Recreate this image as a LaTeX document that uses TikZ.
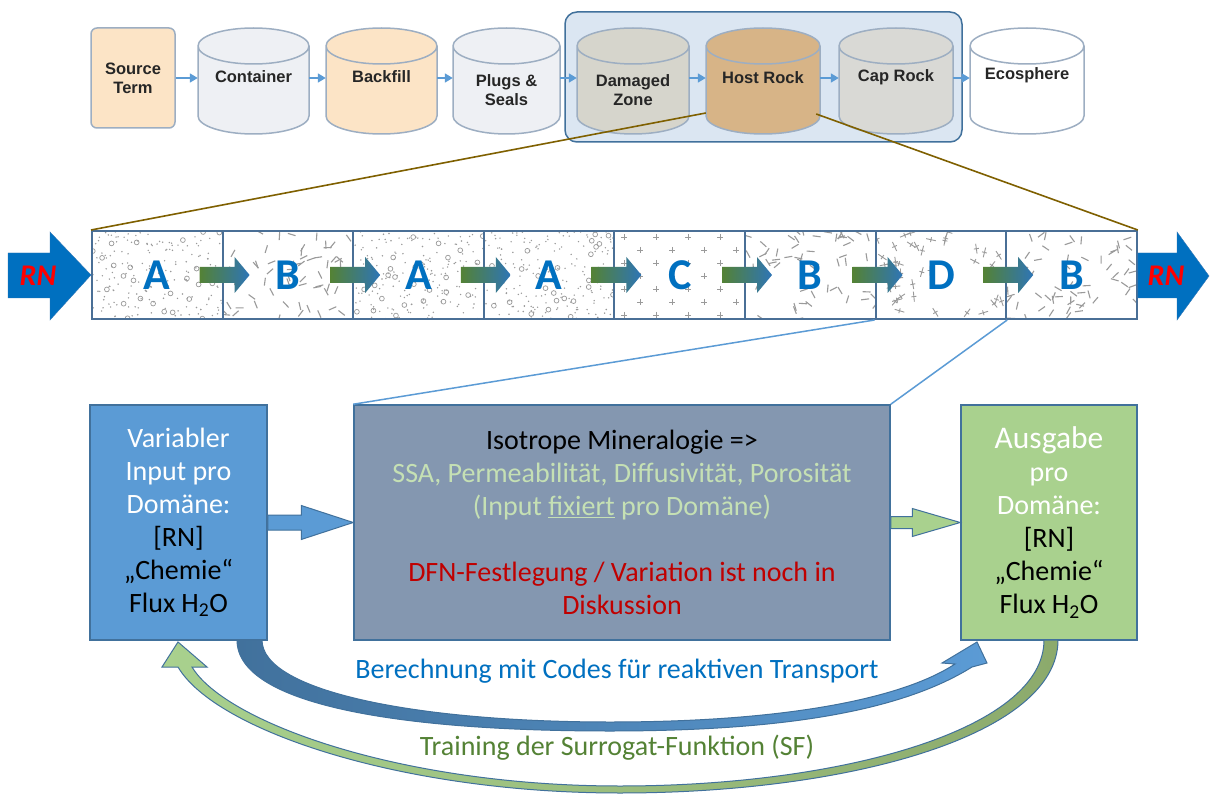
\documentclass[tikz,border=0pt]{standalone}
\usepackage{fontspec}
\setmainfont{Carlito}
\newfontfamily\arialfont{Liberation Sans}
\usetikzlibrary{arrows.meta,calc}

\definecolor{boxline}{HTML}{41719C}
\definecolor{inblue}{HTML}{5B9BD5}
\definecolor{midgray}{HTML}{8497B0}
\definecolor{outgreen}{HTML}{A9D18E}
\definecolor{darkgreen}{HTML}{548235}
\definecolor{letterblue}{HTML}{0070C0}
\definecolor{lightgreen}{HTML}{C5E0B4}
\definecolor{darkred}{HTML}{C00000}
\definecolor{peach}{HTML}{FCE4C6}
\definecolor{paleg}{HTML}{EEF0F4}
\definecolor{stone}{HTML}{D6D5CC}
\definecolor{hostrock}{HTML}{D7B487}
\definecolor{caprock}{HTML}{D9D9D5}
\definecolor{cylline}{HTML}{9DAEC2}
\definecolor{groupblue}{HTML}{DBE6F2}
\definecolor{brownline}{HTML}{7F6000}
\definecolor{texgray}{HTML}{9A9A9A}
\definecolor{olive}{HTML}{8CAA6C}
\definecolor{stripline}{HTML}{4A6F96}
\definecolor{rnblue}{HTML}{0070C0}
\definecolor{arrowblue}{HTML}{2E75B6}

\newcommand\drum[6]{\draw[cylline,line width=1.5,fill=#3] (#1,46) -- (#1,116)
 arc[start angle=180,end angle=0,x radius={(#2-#1)/2},y radius=18] -- (#2,46)
 arc[start angle=0,end angle=-180,x radius={(#2-#1)/2},y radius=18] -- cycle
 (#1,46) arc[start angle=180,end angle=0,x radius={(#2-#1)/2},y radius=18];
\node[drumtext,minimum width=#2-#1] (#4) at ({(#1+#2)/2},#6) {#5};}

\newcommand\texA{%
\foreach \k in {1,...,170} \fill[texgray] (rnd*131,rnd*88) circle[radius=0.8];
\foreach \k in {1,...,26} \draw[texgray,line width=0.7] (rnd*131,rnd*88) circle[radius=2.4];}
\newcommand\texB{%
\foreach \k in {1,...,60} {\pgfmathsetmacro\ang{rnd*180}
 \draw[texgray,line width=1.1] (rnd*131,rnd*88) ++(\ang:4) -- ++(\ang+180:8);}}
\newcommand\texC{%
\foreach \j in {0,...,6} \foreach \i in {0,...,4}
 \draw[texgray,line width=0.8] ({10+mod(\j,2)*16+\i*32},{6+\j*13}) +(-3,0) -- +(3,0) +(0,-3) -- +(0,3);}
\newcommand\texD{%
\foreach \k in {1,...,42} {\pgfmathsetmacro\ang{rnd*180}
 \draw[texgray,line width=0.9] (rnd*131,rnd*88) coordinate (p) ++(\ang:5) -- ++(\ang+180:10)
 (p) ++(\ang+90:2.5) -- ++(\ang-90:5);}}

\begin{document}
\begin{tikzpicture}[x=1pt,y=-1pt,
 drumtext/.style={font=\arialfont\bfseries\fontsize{16.5}{19}\selectfont,text=black!85,align=center,inner sep=0pt},
 flowarrow/.style={inblue,line width=1.6,-{Triangle[width=9pt,length=8pt]}},
 cell/.style={draw=stripline,line width=2,minimum width=130.6,minimum height=88,inner sep=0pt,
  font=\bfseries\fontsize{44}{44}\selectfont,text=letterblue},
 rnlabel/.style={font=\bfseries\itshape\fontsize{30}{30}\selectfont,text=red},
 bigbox/.style={draw=boxline,line width=1.5,minimum height=235,inner sep=0pt,align=center,
  font=\fontsize{28}{33}\selectfont},
 bottomnote/.style={font=\fontsize{28}{30}\selectfont}]
\useasboundingbox (0,0) rectangle (1210,794);
\fill[white] (0,0) rectangle (1210,794);
\pgfmathsetseed{7}

\node[draw=cylline,line width=1.5,fill=peach,rounded corners=6,minimum width=84,minimum height=100,drumtext]
 (src) at (133,78) {Source\\Term};
\drum{198}{309}{paleg}{cont}{Container}{77}
\drum{326}{437}{peach}{back}{Backfill}{77}
\drum{453}{560}{paleg}{plug}{Plugs \&\\Seals}{90}
\node[draw=boxline,fill=groupblue,rounded corners=12,line width=1.5,minimum width=397,minimum height=130]
 (rocks) at (763.5,77) {};
\drum{577}{689}{stone}{dmg}{Damaged\\Zone}{90}
\drum{706}{820}{hostrock}{host}{Host Rock}{78}
\drum{839}{953}{caprock}{cap}{Cap Rock}{77}
\drum{970}{1084}{white}{eco}{Ecosphere}{75}
\coordinate (row) at (0,78);
\foreach \a/\b in {src/cont,cont/back,back/plug,plug/dmg,dmg/host,host/cap,cap/eco}
 \draw[flowarrow] (\a.east|-row) -- (\b.west|-row);

\foreach \ltr [count=\i] in {A,B,A,A,C,B,D,B}
{\begin{scope}
 \clip ({92+130.6*(\i-1)},231) rectangle ++(130.6,88);
 \begin{scope}[shift={({92+130.6*(\i-1)},231)}]\csname tex\ltr\endcsname\end{scope}
\end{scope}
\node[cell] (c\i) at ({92+130.6*(\i-0.5)},275) {\ltr};}
\foreach \i in {1,...,7}
{\begin{scope}[shift={(c\i.east)}]
 \shade[left color=darkgreen,right color=arrowblue] (-24,-8) -- (11,-8) -- (11,-18) -- (26,0)
  -- (11,18) -- (11,8) -- (-24,8) -- cycle;
\end{scope}}
\coordinate (rntop) at (0,253);
\coordinate (rnbot) at (0,298);
\filldraw[fill=rnblue,draw=arrowblue] (8,253) -- (50,253) -- (50,232) -- (c1.west) -- (50,320) -- (50,298)
 -- (8,298) -- cycle;
\node[rnlabel] (rnin) at (38,276) {RN};
\filldraw[fill=rnblue,draw=arrowblue] (c8.east|-rntop) -- (1177,253) -- (1177,232) -- (1209,276)
 -- (1177,320) -- (1177,298) -- (c8.east|-rnbot) -- cycle;
\node[rnlabel] (rnout) at (1166,276) {RN};

\draw[brownline,line width=1.6] ($(host.west)+(0,35)$) -- (c1.north west);
\draw[brownline,line width=1.6] ($(host.east)+(-4,36)$) -- (c8.north east);

\node[bigbox,fill=inblue,minimum width=177] (inbox) at (178.5,522.5)
 {\textcolor{white}{Variabler}\\\textcolor{white}{Input pro}\\\textcolor{white}{Domäne:}\\{[RN]}\\„Chemie“\\Flux H\textsubscript{2}O};
\node[bigbox,fill=midgray,minimum width=536] (midbox) at (622,522.5)
 {Isotrope Mineralogie =>\\\textcolor{lightgreen}{SSA, Permeabilität, Diffusivität, Porosität}\\
  \textcolor{lightgreen}{(Input \underline{fixiert} pro Domäne)}\\[33pt]
  \textcolor{darkred}{DFN-Festlegung / Variation ist noch in}\\\textcolor{darkred}{Diskussion}};
\node[bigbox,fill=outgreen,minimum width=176] (outbox) at (1049,522.5)
 {\textcolor{white}{\fontsize{31.5}{33}\selectfont Ausgabe}\\\textcolor{white}{pro}\\\textcolor{white}{Domäne:}\\{[RN]}\\„Chemie“\\Flux H\textsubscript{2}O};
\draw[inblue,line width=1.5] (c7.south west) -- (midbox.north west);
\draw[inblue,line width=1.5] (c7.south east) -- (midbox.north east);

\filldraw[fill=inblue,draw=boxline,line width=1] ($(inbox.east)+(0,-7.5)$) -- ($(midbox.west)+(-52,-7.5)$)
 -- ($(midbox.west)+(-52,-17)$) -- (midbox.west) -- ($(midbox.west)+(-52,17)$) -- ($(midbox.west)+(-52,7.5)$)
 -- ($(inbox.east)+(0,7.5)$) -- cycle;
\filldraw[fill=outgreen,draw=boxline,line width=1] ($(midbox.east)+(0,-6)$) -- ($(outbox.west)+(-48,-6)$)
 -- ($(outbox.west)+(-48,-14)$) -- (outbox.west) -- ($(outbox.west)+(-48,14)$) -- ($(outbox.west)+(-48,6)$)
 -- ($(midbox.east)+(0,6)$) -- cycle;

\path[draw=boxline,line width=1,left color=boxline,right color=inblue]
 (237,640) -- (262,640) .. controls (262,692) and (420,722) .. (610,722)
 .. controls (780,722) and (900,700) .. (955,664) -- (942,663) -- (977,642) -- (987,663) -- (972,667)
 .. controls (900,712) and (780,731) .. (610,731) .. controls (400,731) and (237,705) .. (237,640) -- cycle;
\path[draw=boxline,line width=1,left color=outgreen,right color=olive]
 (1044,640) -- (1058,640) .. controls (1058,735) and (850,793) .. (620,793)
 .. controls (400,793) and (215,730) .. (178,667) -- (162,667) -- (178,642) -- (207,667) -- (192,667)
 .. controls (225,722) and (400,786) .. (620,786) .. controls (840,786) and (1044,730) .. (1044,640) -- cycle;
\node[bottomnote,text=letterblue] (calcnote) at (617,671) {Berechnung mit Codes für reaktiven Transport};
\node[bottomnote,text=darkgreen] (trainnote) at (617,748) {Training der Surrogat-Funktion (SF)};
\end{tikzpicture}
\end{document}
